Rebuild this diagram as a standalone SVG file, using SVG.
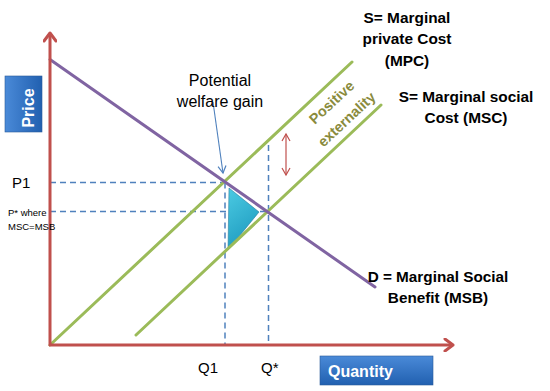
<svg xmlns="http://www.w3.org/2000/svg" width="550" height="391" viewBox="0 0 550 391">
  <defs>
    <linearGradient id="boxGrad" x1="0" y1="0" x2="0" y2="1">
      <stop offset="0" stop-color="#4a8ad8"/>
      <stop offset="1" stop-color="#2160b0"/>
    </linearGradient>
    <linearGradient id="boxGradV" x1="0" y1="0" x2="1" y2="0">
      <stop offset="0" stop-color="#4a8ad8"/>
      <stop offset="1" stop-color="#2160b0"/>
    </linearGradient>
    <linearGradient id="triGrad" x1="0" y1="0" x2="0.4" y2="1">
      <stop offset="0" stop-color="#4ccbe3"/>
      <stop offset="1" stop-color="#1f9cc0"/>
    </linearGradient>
    <marker id="axisHead" markerWidth="14" markerHeight="14" refX="10" refY="7" orient="auto" markerUnits="userSpaceOnUse">
      <polyline points="2,1 10,7 2,13" fill="none" stroke="#c0504d" stroke-width="3" stroke-linecap="round" stroke-linejoin="round"/>
    </marker>
    <marker id="blueHead" markerWidth="10" markerHeight="10" refX="8" refY="5" orient="auto" markerUnits="userSpaceOnUse">
      <polyline points="1,1 8,5 1,9" fill="none" stroke="#4f81bd" stroke-width="1.2"/>
    </marker>
    <marker id="redHead" markerWidth="10" markerHeight="10" refX="8" refY="5" orient="auto-start-reverse" markerUnits="userSpaceOnUse">
      <polyline points="1,1 8,5 1,9" fill="none" stroke="#c0504d" stroke-width="1.2"/>
    </marker>
  </defs>
  <style>
    .axis { stroke: #c0504d; stroke-width: 3; fill: none; }
    .demand { stroke: #8064a2; stroke-width: 3; fill: none; stroke-linecap: round; }
    .supply { stroke: #9bbb59; stroke-width: 3; fill: none; stroke-linecap: round; }
    .dash { stroke: #4f81bd; stroke-width: 1.5; stroke-dasharray: 6 4; fill: none; }
    .lbl { font-family: "Liberation Sans", Arial, sans-serif; fill: #000; }
    .bold { font-weight: bold; }
    .boxText { font-family: "Liberation Sans", Arial, sans-serif; font-weight: bold; fill: #fff; font-size: 16px; }
    .ext { font-family: "Liberation Sans", Arial, sans-serif; font-weight: bold; fill: #8a8b3d; font-size: 14.5px; }
  </style>
  <rect width="550" height="391" fill="#ffffff"/>

  <g id="connectors">
    <line class="dash" x1="50" y1="182.5" x2="225" y2="182.5"/>
    <line class="dash" x1="50" y1="211.5" x2="268.5" y2="211.5"/>
    <line class="dash" x1="225" y1="182.5" x2="225" y2="345"/>
    <line class="dash" x1="268.5" y1="145" x2="268.5" y2="345"/>
    <line x1="213" y1="102" x2="223" y2="173" stroke="#4f81bd" stroke-width="1.1" marker-end="url(#blueHead)"/>
    <line x1="286" y1="134" x2="286" y2="175" stroke="#c0504d" stroke-width="1.2" marker-start="url(#redHead)" marker-end="url(#redHead)"/>
  </g>

  <g id="welfare-triangle">
    <polygon points="229,188 259,212 228,250" fill="url(#triGrad)" stroke="#2a7fa0" stroke-width="0.6"/>
  </g>

  <g id="mpc-line">
    <line class="supply" x1="50" y1="345" x2="352" y2="62"/>
  </g>
  <g id="msc-line">
    <line class="supply" x1="136" y1="335" x2="381" y2="105"/>
  </g>
  <g id="demand-line">
    <line class="demand" x1="50" y1="59.5" x2="375" y2="287"/>
  </g>

  <g id="axes">
    <line class="axis" x1="50" y1="346" x2="50" y2="33" marker-end="url(#axisHead)"/>
    <line class="axis" x1="49" y1="345" x2="453" y2="345" marker-end="url(#axisHead)"/>
  </g>

  <g id="price-box">
    <rect x="5" y="76" width="37" height="56" fill="url(#boxGradV)" stroke="#2a5a9a" stroke-width="0.6"/>
    <text class="boxText" transform="translate(34,108) rotate(-90)" text-anchor="middle">Price</text>
  </g>
  <g id="quantity-box">
    <rect x="320" y="356" width="113" height="29" fill="url(#boxGrad)" stroke="#2a5a9a" stroke-width="0.6"/>
    <text class="boxText" x="328" y="377">Quantity</text>
  </g>

  <g id="welfare-label">
    <text class="lbl" font-size="16" text-anchor="middle" x="220" y="86">Potential</text>
    <text class="lbl" font-size="16" text-anchor="middle" x="220" y="107">welfare gain</text>
  </g>

  <g id="mpc-label">
    <text class="lbl bold" font-size="15.4" text-anchor="middle" x="407" y="23">S= Marginal</text>
    <text class="lbl bold" font-size="15.4" text-anchor="middle" x="407" y="44">private Cost</text>
    <text class="lbl bold" font-size="15.4" text-anchor="middle" x="407" y="66">(MPC)</text>
  </g>
  <g id="msc-label">
    <text class="lbl bold" font-size="15.4" text-anchor="middle" x="466" y="102">S= Marginal social</text>
    <text class="lbl bold" font-size="15.4" text-anchor="middle" x="466" y="123">Cost (MSC)</text>
  </g>
  <g id="demand-label">
    <text class="lbl bold" font-size="15.3" text-anchor="middle" x="438" y="282">D = Marginal Social</text>
    <text class="lbl bold" font-size="15.3" text-anchor="middle" x="438" y="303">Benefit (MSB)</text>
  </g>

  <g id="externality-label">
    <text class="ext" text-anchor="middle" transform="translate(335,106) rotate(-43)">Positive</text>
    <text class="ext" text-anchor="middle" transform="translate(350,123) rotate(-43)">externality</text>
  </g>

  <g id="axis-labels">
    <text class="lbl" font-size="15" x="12" y="188">P1</text>
    <text class="lbl" font-size="9.5" x="8" y="216">P* where</text>
    <text class="lbl" font-size="9.5" x="8" y="230">MSC=MSB</text>
    <text class="lbl" font-size="15" x="198" y="373">Q1</text>
    <text class="lbl" font-size="15" x="261" y="373">Q*</text>
  </g>
</svg>
